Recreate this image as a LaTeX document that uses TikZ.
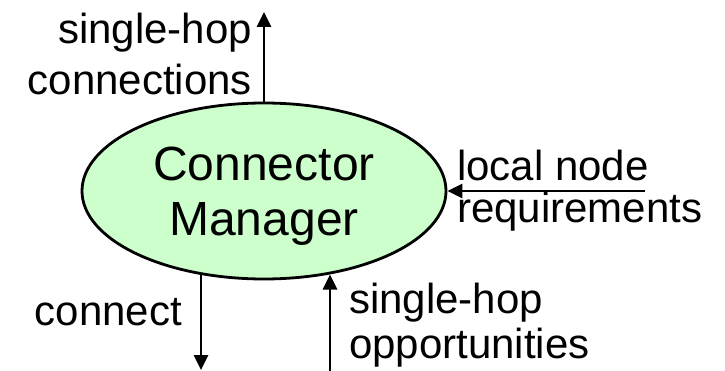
\documentclass[tikz,border=0pt]{standalone}
\usepackage{fontspec}
\setmainfont{Liberation Sans}
\usetikzlibrary{shapes.geometric,arrows.meta}
\definecolor{mgrgreen}{HTML}{CCFFCC}
\begin{document}
\begin{tikzpicture}[x=1pt,y=-1pt,
mgr/.style={draw, ellipse, fill=mgrgreen, line width=2.8pt, minimum width=364pt, minimum height=176pt, inner sep=0pt, align=center, text depth=0pt, font=\fontsize{48}{55}\selectfont},
lab/.style={inner sep=0pt},
flow/.style={line width=2.8pt, -{Triangle[length=15pt,width=14pt]}}
]
\useasboundingbox (0,0) rectangle (725,371);
\node[mgr] (mgr) at (264,191) {Connector\\Manager};

\node[lab, align=right, anchor=north east, font=\fontsize{42}{51}\selectfont] (conLab) at (252,13) {single-hop\\connections};
\node[lab, align=left, anchor=north west, font=\fontsize{42}{42}\selectfont] (reqLab) at (457,150) {local node\\requirements};
\node[lab, anchor=base east, font=\fontsize{42}{50}\selectfont] (connLab) at (182,325) {connect};
\node[lab, align=left, anchor=north west, font=\fontsize{42}{45}\selectfont] (oppLab) at (349,283) {single-hop\\opportunities};

\coordinate (conTip) at (264,12);
\coordinate (reqStart) at (645,191);
\coordinate (connTip) at (201,370);
\coordinate (oppStart) at (330,371);

\draw[flow] (mgr.north) -- (conTip);
\draw[flow] (reqStart) -- (mgr.east);
\draw[flow] (connTip |- mgr.-128) -- (connTip);
\draw[flow] (oppStart) -- (oppStart |- mgr.-52);
\end{tikzpicture}
\end{document}
